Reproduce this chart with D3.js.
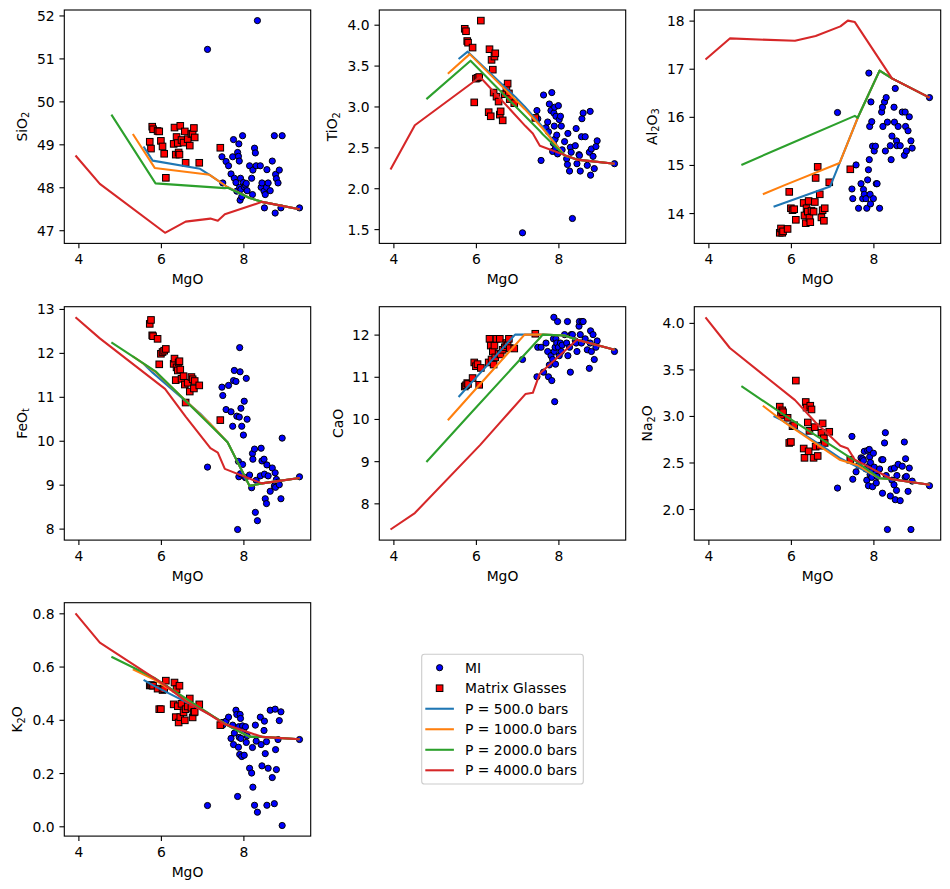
<!DOCTYPE html>
<html><head><meta charset="utf-8">
<script src="https://cdn.jsdelivr.net/npm/d3@7/dist/d3.min.js"></script>
<style>
html,body{margin:0;padding:0;background:#fff;}
svg text{font-family:"DejaVu Sans",sans-serif;}
</style></head><body>
<svg id="chart" width="950" height="889"></svg>
<script>
// ---------------- DATA ----------------
// Melt inclusions (MI)
const miMgO = [7.13,7.48,7.50,7.58,7.64,7.70,7.74,7.76,7.78,7.82,7.84,7.86,7.88,7.89,7.90,7.91,7.92,7.93,7.94,7.96,7.98,8.00,8.02,8.05,8.07,8.09,8.15,8.20,8.22,8.23,8.27,8.29,8.31,8.34,8.41,8.43,8.45,8.50,8.51,8.53,8.56,8.57,8.60,8.65,8.70,8.75,8.77,8.78,8.80,8.84,8.87,8.91,8.94,9.36];
const miSiO2 = [51.21,48.71,48.10,48.60,48.50,48.31,48.71,49.11,48.21,48.11,47.91,48.81,48.72,49.01,48.61,48.00,47.70,48.21,47.95,47.78,49.20,48.11,48.01,48.05,48.09,47.92,48.50,48.21,47.83,48.40,48.91,48.80,48.50,51.88,48.50,48.00,48.10,47.91,47.52,47.83,48.00,48.41,48.10,47.92,48.61,49.20,47.40,48.30,48.20,48.10,48.40,47.52,49.20,47.52];
const miTiO2 = [1.455,2.95,2.85,2.34,3.14,2.74,2.81,2.69,3.03,2.95,3.17,2.45,2.55,2.92,2.76,2.99,2.60,2.49,2.88,2.65,2.42,3.01,2.84,2.88,2.76,2.47,2.57,2.36,2.29,2.67,2.21,2.50,2.44,1.63,2.52,2.73,2.30,2.41,2.40,2.21,2.63,2.85,2.92,2.63,2.28,2.44,2.94,2.16,2.48,2.39,2.24,2.51,2.58,2.30];
const miAl2O3 = [16.09,14.50,14.30,15.00,14.10,14.61,14.30,14.49,14.39,14.30,14.10,14.69,14.90,16.91,15.11,15.80,14.39,14.19,16.31,15.90,15.39,14.30,15.29,15.39,14.61,14.61,14.10,16.10,16.20,15.80,16.31,15.29,16.40,15.89,15.40,15.11,15.60,16.20,15.89,16.59,15.50,15.40,15.80,15.40,16.10,15.20,16.10,15.80,15.29,15.71,16.00,15.50,15.35,16.40];
const miFeO = [9.40,11.22,11.03,10.71,11.26,10.66,10.33,11.37,11.60,11.35,10.56,7.98,9.53,9.18,10.54,12.12,11.57,9.25,10.74,10.33,9.46,10.13,10.90,9.16,11.42,10.49,9.22,8.93,9.71,9.58,9.81,8.37,9.10,8.18,9.20,9.83,9.54,9.58,9.24,8.68,8.57,9.45,9.20,8.85,9.38,8.97,9.27,8.94,9.12,9.06,9.00,8.68,10.06,9.18];
const miCaO = [11.41,11.00,11.70,11.70,11.11,11.80,11.60,11.00,11.28,11.50,10.91,11.41,11.90,12.41,11.60,10.41,11.70,11.30,11.90,11.80,12.31,11.70,11.50,11.80,11.60,11.75,12.00,11.80,12.31,11.50,11.70,11.11,12.00,12.00,11.85,11.80,11.60,12.20,12.31,12.00,11.80,12.31,12.31,11.90,11.64,11.20,11.80,12.09,11.60,12.00,11.41,11.70,11.85,11.60];
const miNa2O = [2.225,2.78,2.32,2.40,2.47,2.55,2.54,2.52,2.62,2.43,2.31,2.63,2.25,2.46,2.64,2.56,2.37,2.50,2.40,2.34,2.24,2.60,2.45,2.38,2.28,2.35,2.43,2.53,2.17,2.53,2.71,2.82,2.36,1.78,2.14,2.43,2.31,2.26,2.44,2.10,2.20,2.36,2.48,2.09,2.46,2.72,2.34,2.54,2.35,2.19,2.44,1.78,2.30,2.25];
const miK2O = [0.078,0.39,0.38,0.395,0.41,0.33,0.38,0.307,0.35,0.436,0.42,0.112,0.297,0.374,0.334,0.27,0.42,0.405,0.33,0.262,0.377,0.36,0.267,0.374,0.315,0.34,0.218,0.20,0.296,0.147,0.079,0.38,0.32,0.053,0.41,0.307,0.227,0.36,0.395,0.273,0.318,0.079,0.218,0.436,0.183,0.085,0.44,0.288,0.213,0.326,0.397,0.43,0.003,0.326];

// Matrix glasses
const mgMgO = [5.73,5.76,5.79,5.81,5.92,5.96,6.00,6.04,6.08,6.12,6.31,6.33,6.36,6.38,6.41,6.43,6.45,6.47,6.50,6.55,6.58,6.60,6.65,6.70,6.74,6.77,6.80,6.82,6.93,7.44];
const mgSiO2 = [49.06,48.90,49.41,49.35,49.31,49.30,49.08,48.95,48.78,48.22,49.01,49.39,48.76,49.17,49.03,48.81,48.76,49.43,49.10,49.04,49.30,48.57,49.12,48.97,49.24,49.25,49.38,49.16,48.57,48.92];
const mgTiO2 = [3.95,3.92,3.80,3.78,3.72,3.05,3.34,3.35,3.36,4.05,2.93,3.70,2.88,3.57,3.45,3.17,3.61,3.65,3.12,3.06,2.90,2.94,2.83,3.15,3.23,3.28,3.16,3.09,3.04,2.86];
const mgAl2O3 = [13.59,13.68,13.59,13.62,13.67,14.44,14.10,14.06,14.08,13.86,14.21,13.95,13.79,14.10,14.03,14.25,13.90,13.81,14.05,14.03,14.23,14.73,14.96,14.39,13.91,14.06,13.84,14.10,14.64,14.91];
const mgFeO = [12.66,12.75,12.40,12.38,12.32,11.74,11.98,12.02,12.05,12.09,11.75,11.87,11.38,11.67,11.60,11.78,11.81,11.62,11.41,11.47,11.28,10.87,11.32,11.12,11.45,11.40,11.19,11.36,11.26,10.47];
const mgCaO = [10.77,10.80,10.85,10.83,10.97,11.34,11.25,11.30,10.81,11.21,11.34,11.90,11.74,11.41,11.60,11.29,11.74,11.46,11.90,11.55,11.90,11.53,11.64,11.70,11.80,11.75,11.90,11.68,11.67,12.02];
const mgNa2O = [3.10,3.01,3.06,3.04,2.98,2.71,2.72,2.89,2.90,3.38,2.65,2.55,3.15,3.09,2.93,2.62,2.84,3.11,3.07,2.55,2.88,2.67,2.57,2.68,2.82,2.92,2.76,2.71,2.83,2.53];
const mgK2O = [0.529,0.530,0.529,0.528,0.517,0.44,0.44,0.512,0.515,0.547,0.458,0.540,0.41,0.515,0.451,0.39,0.528,0.41,0.46,0.428,0.398,0.44,0.45,0.48,0.445,0.409,0.428,0.43,0.458,0.38];

// Model liquid lines of descent, one array per pressure (500, 1000, 2000, 4000 bars)
const pressures = [500.0, 1000.0, 2000.0, 4000.0];
const lineMgO = [
  [9.36,8.45,8.15,7.62,7.18,6.95,5.80,5.58],
  [9.36,8.45,8.15,7.62,7.18,5.85,5.32],
  [9.36,8.45,8.15,7.62,7.55,5.87,4.80],
  [9.36,8.45,7.55,7.38,7.20,6.60,6.10,4.52,3.93]
];
const lineSiO2 = [
  [47.49,47.66,47.75,48.00,48.29,48.43,48.62,48.95],
  [47.49,47.66,47.75,48.00,48.29,48.45,49.24],
  [47.49,47.66,47.75,47.99,47.98,48.09,49.69],
  [47.49,47.66,47.37,47.22,47.27,47.20,46.94,48.08,48.74]
];
const lineTiO2 = [
  [2.30,2.35,2.40,2.75,3.00,3.12,3.67,3.58],
  [2.30,2.35,2.40,2.73,2.97,3.64,3.40],
  [2.30,2.35,2.40,2.66,2.70,3.56,3.09],
  [2.30,2.35,2.52,2.67,2.76,3.09,3.36,2.77,2.23]
];
const lineAl2O3 = [
  [16.40,16.80,16.96,15.98,15.04,14.55,14.20,14.13],
  [16.40,16.80,16.96,15.98,15.04,14.58,14.39],
  [16.40,16.80,16.96,15.98,16.02,15.40,15.00],
  [16.40,16.80,17.97,18.00,17.88,17.68,17.58,17.63,17.19]
];
const lineFeO = [
  [9.15,9.03,8.97,9.96,10.40,10.62,11.55,11.75],
  [9.15,9.03,8.97,9.96,10.40,11.58,11.92],
  [9.15,9.03,8.97,9.96,10.03,11.58,12.24],
  [9.15,9.03,9.36,9.73,9.83,10.55,11.18,12.33,12.81]
];
const lineCaO = [
  [11.64,11.88,11.98,12.00,12.00,12.00,10.76,10.52],
  [11.64,11.88,11.98,12.00,12.00,10.55,9.97],
  [11.64,11.88,11.98,12.00,11.92,10.13,8.98],
  [11.64,11.88,11.08,10.62,10.59,9.93,9.38,7.77,7.38]
];
const lineNa2O = [
  [2.26,2.32,2.33,2.45,2.55,2.62,2.95,3.00],
  [2.26,2.32,2.33,2.47,2.53,2.93,3.11],
  [2.26,2.32,2.33,2.50,2.52,3.00,3.32],
  [2.26,2.32,2.53,2.65,2.68,2.93,3.17,3.73,4.06]
];
const lineK2O = [
  [0.327,0.336,0.336,0.38,0.42,0.44,0.53,0.55],
  [0.327,0.336,0.336,0.38,0.42,0.55,0.59],
  [0.327,0.336,0.336,0.378,0.385,0.555,0.637],
  [0.327,0.336,0.383,0.40,0.418,0.47,0.53,0.69,0.80]
];

// Tick labels
const xTicks = [4, 6, 8];
const tickSiO2 = [47, 48, 49, 50, 51, 52];
const tickTiO2 = [1.5, 2.0, 2.5, 3.0, 3.5, 4.0];
const tickAl2O3 = [14, 15, 16, 17, 18];
const tickFeO = [8, 9, 10, 11, 12, 13];
const tickCaO = [8, 9, 10, 11, 12];
const tickNa2O = [2.0, 2.5, 3.0, 3.5, 4.0];
const tickK2O = [0.0, 0.2, 0.4, 0.6, 0.8];

const legendLabels = ["MI", "Matrix Glasses"].concat(pressures.map(p => `P = ${p.toFixed(1)} bars`));

// ---------------- STYLE / LAYOUT ----------------
const lineColors = ["#1f77b4", "#ff7f0e", "#2ca02c", "#d62728"];
const FS = 13.89, TICK = 4.86, PAD = 4.86, LABELPAD = 5.56, LW = 1.11;
const colLeft = [64.3, 379.3, 694.3];
const rowTop = [10.0, 306.7, 602.7];
const axW = 246.4, axH = 233.4;

const panels = [
  {lab: ["SiO", "2"], mi: miSiO2, mg: mgSiO2, ln: lineSiO2, ticks: tickSiO2, fmt: d3.format("d"), r: 0, c: 0},
  {lab: ["TiO", "2"], mi: miTiO2, mg: mgTiO2, ln: lineTiO2, ticks: tickTiO2, fmt: d3.format(".1f"), r: 0, c: 1},
  {lab: ["Al", "2", "O", "3"], mi: miAl2O3, mg: mgAl2O3, ln: lineAl2O3, ticks: tickAl2O3, fmt: d3.format("d"), r: 0, c: 2},
  {lab: ["FeO", "t"], mi: miFeO, mg: mgFeO, ln: lineFeO, ticks: tickFeO, fmt: d3.format("d"), r: 1, c: 0},
  {lab: ["CaO"], mi: miCaO, mg: mgCaO, ln: lineCaO, ticks: tickCaO, fmt: d3.format("d"), r: 1, c: 1},
  {lab: ["Na", "2", "O"], mi: miNa2O, mg: mgNa2O, ln: lineNa2O, ticks: tickNa2O, fmt: d3.format(".1f"), r: 1, c: 2},
  {lab: ["K", "2", "O"], mi: miK2O, mg: mgK2O, ln: lineK2O, ticks: tickK2O, fmt: d3.format(".1f"), r: 2, c: 0}
];

const svg = d3.select("#chart");
svg.append("rect").attr("width", 950).attr("height", 889).attr("fill", "#fff");

function addLabel(sel, parts, sub) {
  // parts alternate normal / subscript
  parts.forEach((t, i) => {
    const isSub = i % 2 === 1;
    const ts = sel.append("tspan").text(t);
    if (isSub) ts.attr("font-size", FS * 0.7).attr("dy", 2.6);
    else if (i > 0) ts.attr("dy", -2.6);
  });
}

function drawCircle(g, cx, cy) {
  g.append("circle").attr("cx", cx).attr("cy", cy).attr("r", 3.1)
    .attr("fill", "#0000ff").attr("stroke", "#000").attr("stroke-width", 1.0);
}
function drawSquare(g, cx, cy) {
  const s = 6.6;
  g.append("rect").attr("x", cx - s / 2).attr("y", cy - s / 2).attr("width", s).attr("height", s)
    .attr("fill", "#ff0000").attr("stroke", "#000").attr("stroke-width", 1.0);
}

const allMgO = miMgO.concat(mgMgO, lineMgO.flat());
const [xMin, xMax] = d3.extent(allMgO);
const xPad = (xMax - xMin) * 0.05;

panels.forEach(p => {
  const left = colLeft[p.c], top = rowTop[p.r];
  const allY = p.mi.concat(p.mg, p.ln.flat());
  const [yMin, yMax] = d3.extent(allY);
  const yPad = (yMax - yMin) * 0.05;
  const x = d3.scaleLinear().domain([xMin - xPad, xMax + xPad]).range([left, left + axW]);
  const y = d3.scaleLinear().domain([yMin - yPad, yMax + yPad]).range([top + axH, top]);
  const g = svg.append("g");

  // scatter
  const gMI = g.append("g");
  miMgO.forEach((m, i) => drawCircle(gMI, x(m), y(p.mi[i])));
  const gMG = g.append("g");
  mgMgO.forEach((m, i) => drawSquare(gMG, x(m), y(p.mg[i])));

  // lines
  const line = d3.line().x(d => x(d[0])).y(d => y(d[1]));
  lineMgO.forEach((mx, k) => {
    const pts = mx.map((m, i) => [m, p.ln[k][i]]);
    g.append("path").attr("d", line(pts)).attr("fill", "none")
      .attr("stroke", lineColors[k]).attr("stroke-width", 2.08)
      .attr("stroke-linejoin", "round").attr("stroke-linecap", "butt");
  });

  // axes
  const ya = g.append("g").attr("transform", `translate(${left},0)`)
    .call(d3.axisLeft(y).tickValues(p.ticks).tickFormat(p.fmt).tickSize(TICK).tickPadding(PAD));
  const xa = g.append("g").attr("transform", `translate(0,${top + axH})`)
    .call(d3.axisBottom(x).tickValues(xTicks).tickFormat(d3.format("d")).tickSize(TICK).tickPadding(PAD));
  [ya, xa].forEach(a => {
    a.attr("font-family", null).attr("font-size", null);
    a.select(".domain").remove();
    a.selectAll(".tick line").attr("stroke", "#000").attr("stroke-width", LW);
    a.selectAll(".tick text").attr("fill", "#000").attr("font-size", FS);
  });
  ya.selectAll(".tick text").attr("dy", "0.36em");
  xa.selectAll(".tick text").attr("dy", "0.79em");

  g.append("rect").attr("x", left).attr("y", top).attr("width", axW).attr("height", axH)
    .attr("fill", "none").attr("stroke", "#000").attr("stroke-width", LW);

  // x label
  g.append("text").attr("x", left + axW / 2).attr("y", top + axH + 40.4)
    .attr("text-anchor", "middle").attr("font-size", FS).attr("fill", "#000").text("MgO");

  // y label
  let tw = 0;
  ya.selectAll(".tick text").each(function () { tw = Math.max(tw, this.getComputedTextLength()); });
  const hasSub = p.lab.length > 1;
  const desc = hasSub ? 4.6 : 3.3;
  const lx = left - TICK - PAD - tw - LABELPAD - desc;
  const ly = top + axH / 2;
  const yl = g.append("text").attr("transform", `translate(${lx},${ly}) rotate(-90)`)
    .attr("text-anchor", "middle").attr("font-size", FS).attr("fill", "#000");
  addLabel(yl, p.lab);
});

// legend
const lg = svg.append("g");
lg.append("rect").attr("x", 421.7).attr("y", 654.3).attr("width", 161.6).attr("height", 129.7)
  .attr("rx", 2.8).attr("fill", "#fff").attr("fill-opacity", 0.8)
  .attr("stroke", "#cccccc").attr("stroke-width", LW);
const hx0 = 425.3, hx1 = 453.9, tx = 465.0;
legendLabels.forEach((lab, i) => {
  const cy = 667.7 + i * 20.52;
  if (i === 0) drawCircle(lg, (hx0 + hx1) / 2, cy);
  else if (i === 1) drawSquare(lg, (hx0 + hx1) / 2, cy);
  else lg.append("line").attr("x1", hx0).attr("x2", hx1).attr("y1", cy).attr("y2", cy)
    .attr("stroke", lineColors[i - 2]).attr("stroke-width", 2.08);
  lg.append("text").attr("x", tx).attr("y", cy).attr("dy", "0.36em")
    .attr("font-size", FS).attr("fill", "#000").text(lab);
});
</script>
</body></html>
